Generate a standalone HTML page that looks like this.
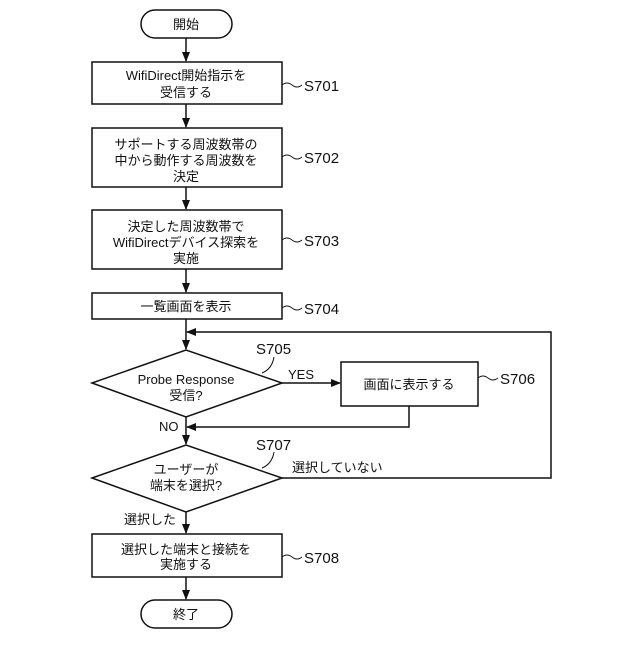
<!DOCTYPE html>
<html><head><meta charset="utf-8"><style>
html,body{margin:0;padding:0;background:#fff}
svg text{font-family:"Liberation Sans","Noto Sans CJK JP",sans-serif;fill:#111}
</style></head><body>
<svg width="640" height="640" viewBox="0 0 640 640" xmlns="http://www.w3.org/2000/svg">
<defs><marker id="a" markerWidth="10" markerHeight="10" refX="9" refY="5" orient="auto" markerUnits="userSpaceOnUse"><path d="M0,1 L10,5 L0,9 Z" fill="#111"/></marker></defs>
<g stroke="#111" stroke-width="1.5" fill="none">
<rect x="141" y="10" width="91" height="28" rx="14"/>
<rect x="92" y="62" width="190" height="42"/>
<rect x="92" y="128" width="190" height="59"/>
<rect x="92" y="210" width="190" height="59"/>
<rect x="92" y="293" width="190" height="26"/>
<polygon points="92,383 186,350 282,383 186,417"/>
<rect x="341" y="362" width="137" height="44"/>
<polygon points="92,478 186,445 282,478 186,512"/>
<rect x="92" y="534" width="190" height="43"/>
<rect x="141" y="600" width="91" height="28" rx="14"/>
<line x1="186" y1="38" x2="186" y2="61" marker-end="url(#a)"/>
<line x1="186" y1="104" x2="186" y2="127" marker-end="url(#a)"/>
<line x1="186" y1="187" x2="186" y2="209" marker-end="url(#a)"/>
<line x1="186" y1="269" x2="186" y2="292" marker-end="url(#a)"/>
<line x1="186" y1="319" x2="186" y2="349" marker-end="url(#a)"/>
<line x1="282" y1="383" x2="340" y2="383" marker-end="url(#a)"/>
<polyline points="409,406 409,427 187,427" marker-end="url(#a)"/>
<line x1="186" y1="417" x2="186" y2="444" marker-end="url(#a)"/>
<polyline points="282,478 551,478 551,332 187,332" marker-end="url(#a)"/>
<line x1="186" y1="512" x2="186" y2="533" marker-end="url(#a)"/>
<line x1="186" y1="577" x2="186" y2="599" marker-end="url(#a)"/>
<g stroke-width="1">
<path d="M282,85 q5,-4 10,0 t10,0"/>
<path d="M282,157 q5,-4 10,0 t10,0"/>
<path d="M282,240 q5,-4 10,0 t10,0"/>
<path d="M282,308 q5,-4 10,0 t10,0"/>
<path d="M478,378 q5,-4 10,0 t10,0"/>
<path d="M282,557 q5,-4 10,0 t10,0"/>
<path d="M262,373 q10,-4 12,-16"/>
<path d="M262,468 q10,-4 12,-16"/>
</g>
</g>
<g font-size="13" text-anchor="middle">
<text x="186" y="29">開始</text>
<text x="186" y="80">WifiDirect開始指示を</text>
<text x="186" y="97">受信する</text>
<text x="186" y="149">サポートする周波数帯の</text>
<text x="186" y="165">中から動作する周波数を</text>
<text x="186" y="181">決定</text>
<text x="186" y="231">決定した周波数帯で</text>
<text x="186" y="247">WifiDirectデバイス探索を</text>
<text x="186" y="263">実施</text>
<text x="186" y="311">一覧画面を表示</text>
<text x="186" y="384">Probe Response</text>
<text x="186" y="400">受信?</text>
<text x="409" y="389">画面に表示する</text>
<text x="186" y="474">ユーザーが</text>
<text x="186" y="490">端末を選択?</text>
<text x="186" y="554">選択した端末と接続を</text>
<text x="186" y="569">実施する</text>
<text x="186" y="619">終了</text>
</g>
<g font-size="15">
<text x="304" y="91">S701</text>
<text x="304" y="163">S702</text>
<text x="304" y="246">S703</text>
<text x="304" y="314">S704</text>
<text x="256" y="354">S705</text>
<text x="500" y="384">S706</text>
<text x="256" y="450">S707</text>
<text x="304" y="563">S708</text>
</g>
<g font-size="13">
<text x="288" y="379">YES</text>
<text x="159" y="431">NO</text>
<text x="292" y="472">選択していない</text>
<text x="124" y="524">選択した</text>
</g>
</svg>
</body></html>
